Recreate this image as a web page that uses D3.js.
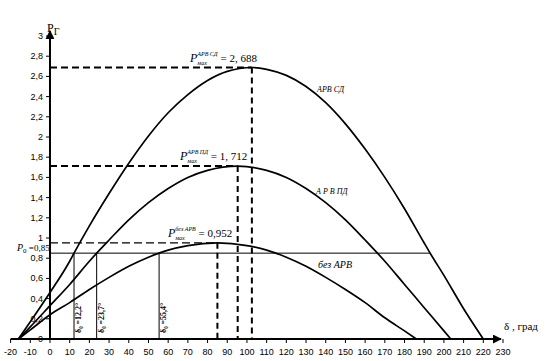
<!DOCTYPE html>
<html>
<head>
<meta charset="utf-8">
<script src="https://cdn.jsdelivr.net/npm/d3@7"></script>
<style>
  body { margin: 0; background: #fff; }
  svg { display: block; }
  .tick-label { font-family: "Liberation Sans", Arial, sans-serif; font-size: 9px; fill: #000; }
  .serif { font-family: "Liberation Serif", "Times New Roman", serif; fill: #000; }
</style>
</head>
<body>
<div id="chart"></div>
<script>
// Curves P(δ): [δ, P]
const arvSd = [[-16, 0], [-10, 0.17], [0, 0.46], [10, 0.77], [12.2, 0.85], [20, 1.12], [30, 1.44], [40, 1.74],
  [50, 2.01], [60, 2.24], [70, 2.42], [80, 2.56], [90, 2.65], [102.5, 2.688], [110, 2.67], [120, 2.61],
  [130, 2.5], [140, 2.34], [150, 2.13], [160, 1.88], [170, 1.6], [180, 1.29], [190, 0.95], [193, 0.85],
  [200, 0.63], [210, 0.3], [220, 0]];
const arvPd = [[-16, 0], [-10, 0.12], [0, 0.33], [10, 0.54], [20, 0.77], [23.7, 0.85], [30, 0.98], [40, 1.18],
  [50, 1.35], [60, 1.49], [70, 1.6], [80, 1.67], [95.3, 1.712], [110, 1.67], [120, 1.6], [130, 1.49],
  [140, 1.35], [150, 1.18], [160, 0.98], [170, 0.77], [180, 0.54], [190, 0.31], [200, 0.08], [203.5, 0]];
const bezArv = [[-16, 0], [-10, 0.09], [0, 0.24], [10, 0.36], [20, 0.49], [30, 0.61], [40, 0.72], [50, 0.81],
  [55.4, 0.85], [60, 0.88], [70, 0.925], [85, 0.952], [100, 0.925], [110, 0.88], [120, 0.81], [130, 0.72],
  [140, 0.61], [150, 0.49], [160, 0.36], [170, 0.21], [180, 0.08], [186, 0]];

const pMax = [2.688, 1.712, 0.952];          // maxima
const deltaMax = [102.5, 95.3, 85];          // angles of maxima
const pMaxTags = ["АРВ СД", "АРВ ПД", "без АРВ"];
const pMaxText = ["2, 688", "1, 712", "0,952"];
const p0 = 0.85;
const delta0 = [12.2, 23.7, 55.4];
const delta0Text = ["δ₀ =12,2°", "δ₀ =23,7°", "δ₀ =55,4°"];
const p0End = 193;                            // where P0 meets the АРВ СД curve

const xTicks = [-20, -10, 0, 10, 20, 30, 40, 50, 60, 70, 80, 90, 100, 110, 120, 130, 140, 150, 160, 170, 180, 190, 200, 210, 220, 230];
const yTicks = [0, 0.2, 0.4, 0.6, 0.8, 1, 1.2, 1.4, 1.6, 1.8, 2, 2.2, 2.4, 2.6, 2.8, 3];

const W = 546, H = 361;
const svg = d3.select("#chart").append("svg").attr("width", W).attr("height", H);

const x = d3.scaleLinear().domain([-20, 230]).range([10.6, 503]);
const y = d3.scaleLinear().domain([0, 3]).range([339, 36]);
const fmt = v => String(v).replace(".", ",");

// Arrow marker
svg.append("defs").append("marker").attr("id", "arr").attr("viewBox", "0 0 10 10")
  .attr("refX", 9).attr("refY", 5).attr("markerWidth", 9).attr("markerHeight", 9)
  .attr("orient", "auto").attr("markerUnits", "userSpaceOnUse")
  .append("path").attr("d", "M0,0 L10,5 L0,10 Z").attr("fill", "#000");

// Guides
const guides = svg.append("g");
// P0 line
guides.append("line")
  .attr("x1", x(0)).attr("x2", x(p0End)).attr("y1", y(p0)).attr("y2", y(p0))
  .attr("stroke", "#000").attr("stroke-width", 1);
// delta0 verticals
guides.selectAll("line.d0").data(delta0).join("line").attr("class", "d0")
  .attr("x1", d => x(d)).attr("x2", d => x(d)).attr("y1", y(p0)).attr("y2", y(0))
  .attr("stroke", "#000").attr("stroke-width", 1);
// maxima: horizontal dashed
guides.selectAll("line.hmax").data(pMax).join("line").attr("class", "hmax")
  .attr("x1", x(0)).attr("x2", (d, i) => x(deltaMax[i])).attr("y1", d => y(d)).attr("y2", d => y(d))
  .attr("stroke", "#000")
  .attr("stroke-width", (d, i) => i === 2 ? 1.2 : 2)
  .attr("stroke-dasharray", (d, i) => i === 2 ? "8,4" : "7,4");
// maxima: vertical dashed
guides.selectAll("line.vmax").data(pMax).join("line").attr("class", "vmax")
  .attr("x1", (d, i) => x(deltaMax[i])).attr("x2", (d, i) => x(deltaMax[i]))
  .attr("y1", d => y(d)).attr("y2", y(0))
  .attr("stroke", "#000").attr("stroke-width", 2).attr("stroke-dasharray", "6,4");

// Curves
const line = d3.line().x(d => x(d[0])).y(d => y(d[1])).curve(d3.curveMonotoneX);
svg.append("g").selectAll("path").data([arvSd, arvPd, bezArv]).join("path")
  .attr("d", line).attr("fill", "none").attr("stroke", "#000").attr("stroke-width", 1.7);

// Axes
const axes = svg.append("g");
axes.append("line").attr("x1", x(-20)).attr("x2", x(230) - 2).attr("y1", y(0)).attr("y2", y(0))
  .attr("stroke", "#000").attr("stroke-width", 2).attr("marker-end", "url(#arr)");
axes.append("line").attr("x1", x(0)).attr("x2", x(0)).attr("y1", y(0)).attr("y2", y(3) - 5)
  .attr("stroke", "#000").attr("stroke-width", 2).attr("marker-end", "url(#arr)");

axes.selectAll("line.xt").data(xTicks).join("line").attr("class", "xt")
  .attr("x1", d => x(d)).attr("x2", d => x(d)).attr("y1", y(0)).attr("y2", y(0) + 4)
  .attr("stroke", "#000");
axes.selectAll("text.xl").data(xTicks).join("text").attr("class", "xl tick-label")
  .attr("x", d => x(d)).attr("y", y(0) + 16).attr("text-anchor", "middle").text(d => d);

axes.selectAll("line.yt").data(yTicks).join("line").attr("class", "yt")
  .attr("x1", x(0) - 4).attr("x2", x(0)).attr("y1", d => y(d)).attr("y2", d => y(d))
  .attr("stroke", "#000");
axes.selectAll("text.yl").data(yTicks).join("text").attr("class", "yl tick-label")
  .attr("x", x(0) - 7).attr("y", d => y(d) + 3).attr("text-anchor", "end").text(fmt);

// Axis titles
const pt = svg.append("text").attr("class", "serif").attr("x", x(0) - 3).attr("y", 32).attr("font-size", 12);
pt.append("tspan").text("P");
pt.append("tspan").attr("dy", 3).attr("font-size", 10).text("Г");
svg.append("text").attr("class", "serif").attr("x", 504).attr("y", 330).attr("font-size", 11).text("δ , град");

// P0 label
const p0t = svg.append("text").attr("class", "serif").attr("x", 17).attr("y", y(p0) - 2).attr("font-size", 10);
p0t.append("tspan").attr("font-style", "italic").text("P");
p0t.append("tspan").attr("dy", 2).attr("font-size", 7).text("0");
p0t.append("tspan").attr("dy", -2).attr("font-size", 9).text(" =" + fmt(p0));

// Max labels: P with stacked super/subscript
const maxPos = [[190, 62], [180, 160], [168, 237]];
pMax.forEach((v, i) => {
  const t = svg.append("text").attr("class", "serif").attr("x", maxPos[i][0]).attr("y", maxPos[i][1]).attr("font-size", 12);
  t.append("tspan").attr("font-style", "italic").text("P");
  const sup = t.append("tspan").attr("dy", -6).attr("font-size", 6).attr("font-style", "italic").text(pMaxTags[i]);
  const supW = sup.node().getComputedTextLength();
  const sub = t.append("tspan").attr("dx", -supW).attr("dy", 9).attr("font-size", 6).attr("font-style", "italic").text("мах");
  const subW = sub.node().getComputedTextLength();
  t.append("tspan").attr("dx", supW - subW).attr("dy", -3).attr("font-size", 11).text(" = " + pMaxText[i]);
});

// Curve names
const names = [["АРВ СД", 317, 92, 8], ["А Р В ПД", 316, 194, 8], ["без АРВ", 318, 268, 10]];
svg.selectAll("text.cn").data(names).join("text").attr("class", "cn serif")
  .attr("x", d => d[1]).attr("y", d => d[2]).attr("font-size", d => d[3])
  .attr("font-style", "italic").text(d => d[0]);

// delta0 labels
svg.selectAll("text.d0l").data(delta0).join("text").attr("class", "d0l serif")
  .attr("transform", d => `translate(${x(d) + 7},${y(0) - 6}) rotate(-90)`)
  .attr("font-size", 8).attr("font-weight", "bold").text((d, i) => delta0Text[i]);
</script>
</body>
</html>
